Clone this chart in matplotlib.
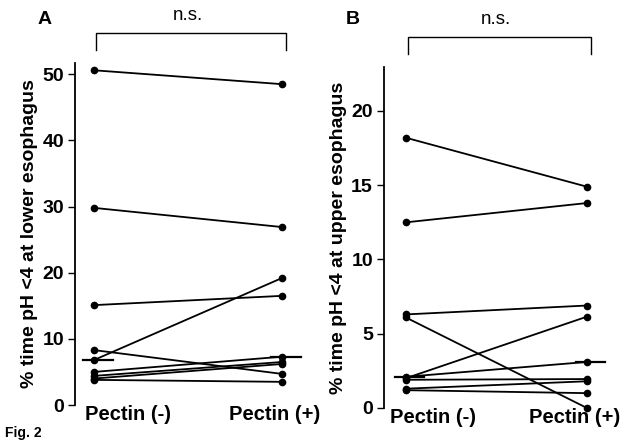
import matplotlib
matplotlib.use("Agg")
import matplotlib.pyplot as plt
import numpy as np

plt.rcParams['font.family'] = ['Liberation Sans', 'DejaVu Sans']
plt.rcParams['font.weight'] = 'bold'

groups = ['Pectin (-)', 'Pectin (+)']

# panel A: lower esophagus, paired values per subject
lower_before = [50.6, 29.8, 15.1, 6.8, 8.3, 5.0, 4.4, 4.0, 3.8]
lower_after = [48.5, 26.9, 16.5, 19.2, 4.7, 7.3, 6.5, 6.2, 3.5]

# panel B: upper esophagus
upper_before = [18.2, 12.5, 6.3, 6.1, 2.0, 2.1, 1.9, 1.3, 1.2]
upper_after = [14.9, 13.8, 6.9, 0.0, 6.15, 3.1, 1.95, 1.8, 1.0]

fig = plt.figure(figsize=(6.25, 4.42), dpi=100)
W, H = 625, 442

def px_axes(left, top, right, bottom):
    return fig.add_axes([left / W, 1 - bottom / H, (right - left) / W, (bottom - top) / H])

axA = px_axes(75, 63, 330, 405)
axB = px_axes(384, 67, 625, 408)

def draw_panel(ax, before, after, ylim, yticks, ylabel, xlim, labpos):
    for b, a in zip(before, after):
        ax.plot([0, 1], [b, a], color='black', lw=1.3, marker='o', ms=4.5,
                clip_on=False, zorder=3)
    # median bars
    for x, vals in zip([0, 1], [before, after]):
        m = np.median(vals)
        ax.plot([x - 0.06, x + 0.1], [m, m], color='black', lw=1.6, clip_on=False)
    ax.set_xlim(*xlim)
    ax.set_ylim(*ylim)
    ax.set_yticks(yticks)
    ax.set_xticks(labpos, groups)
    ax.tick_params(axis='x', length=0, pad=0, labelsize=14.5)
    ax.tick_params(axis='y', length=5, width=1, labelsize=14, pad=3)
    for s in ['top', 'right', 'bottom']:
        ax.spines[s].set_visible(False)
    ax.spines['left'].set_linewidth(1.3)
    ax.set_ylabel(ylabel, fontsize=14, fontweight='bold', labelpad=3)
    # significance bracket
    tr = ax.get_xaxis_transform()
    ax.plot([0.01, 0.01, 1.02, 1.02], [1.038, 1.088, 1.088, 1.038], color='black',
            lw=1.0, transform=tr, clip_on=False)
    ax.text(0.5, 1.14, 'n.s.', transform=tr, ha='center', va='center',
            fontsize=13.5, fontweight='normal')

draw_panel(axA, lower_before, lower_after, (0, 51.7), [0, 10, 20, 30, 40, 50],
           '% time pH <4 at lower esophagus', (-0.101, 1.255), [0.18, 0.96])
draw_panel(axB, upper_before, upper_after, (0, 22.96), [0, 5, 10, 15, 20],
           '% time pH <4 at upper esophagus', (-0.12, 1.21), [0.15, 0.93])

fig.text(38 / W, 1 - 20 / H, 'A', fontsize=14, fontweight='bold', ha='left', va='center')
fig.text(346 / W, 1 - 20 / H, 'B', fontsize=14, fontweight='bold', ha='left', va='center')
fig.text(5 / W, 1 - 433 / H, 'Fig. 2', fontsize=10, fontweight='bold', ha='left', va='center')

fig.savefig('out.png', dpi=100, facecolor='white')
